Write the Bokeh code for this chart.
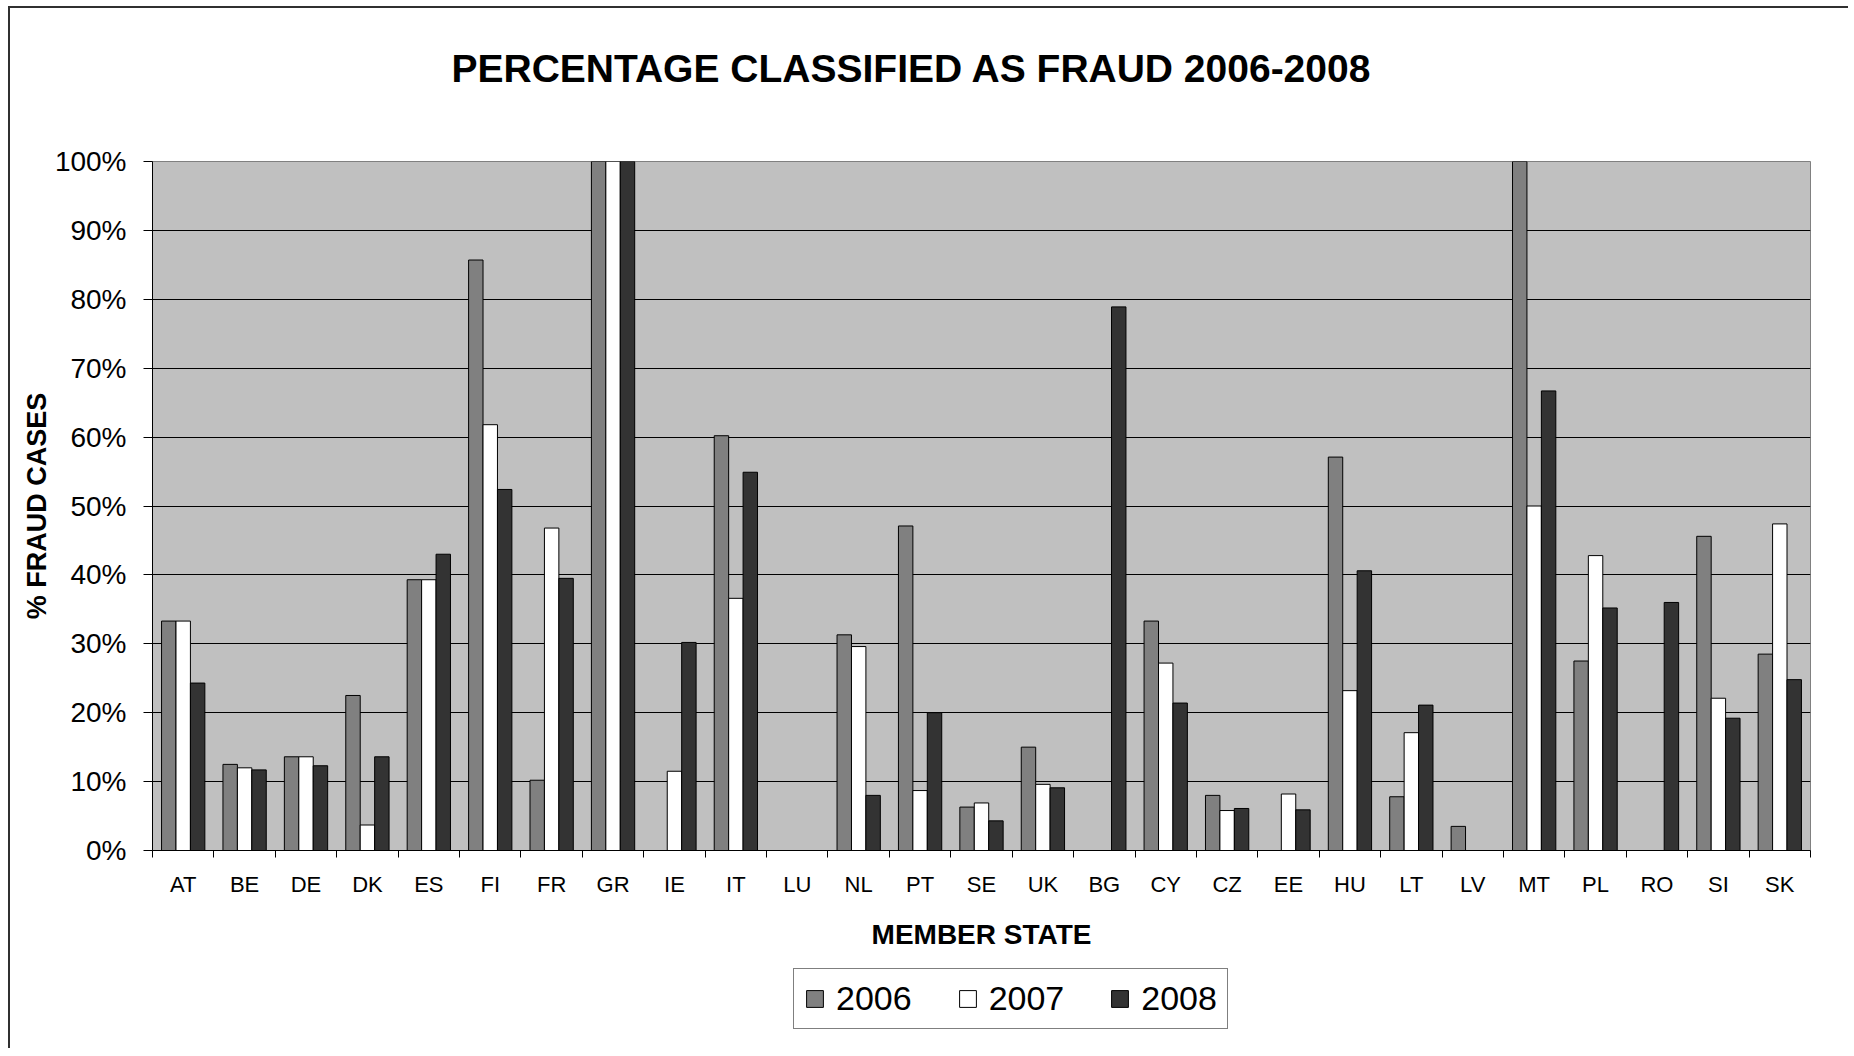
from bokeh.plotting import figure
from bokeh.layouts import column
from bokeh.models import FixedTicker, PrintfTickFormatter, Legend, LegendItem, ColumnDataSource, Range1d, Title
from bokeh.embed import file_html
from bokeh.resources import INLINE

states = ["AT", "BE", "DE", "DK", "ES", "FI", "FR", "GR", "IE", "IT", "LU", "NL", "PT", "SE",
          "UK", "BG", "CY", "CZ", "EE", "HU", "LT", "LV", "MT", "PL", "RO", "SI", "SK"]
years = ["2006", "2007", "2008"]
v2006 = [33.3, 12.5, 13.6, 22.5, 39.3, 85.7, 10.2, 100, 0, 60.2, 0, 31.3, 47.1, 6.3,
         15.0, 0, 33.3, 8.0, 0, 57.1, 7.8, 3.5, 100, 27.5, 0, 45.6, 28.5]
v2007 = [33.3, 12.0, 13.6, 3.7, 39.3, 61.8, 46.8, 100, 11.5, 36.6, 0, 29.6, 8.7, 6.9,
         9.6, 0, 27.2, 5.8, 8.2, 23.2, 17.1, 0, 50.0, 42.8, 0, 22.1, 47.4]
v2008 = [24.3, 11.7, 12.3, 13.6, 43.0, 52.4, 39.5, 100, 30.2, 54.9, 0, 8.0, 20.0, 4.3,
         9.1, 78.9, 21.4, 6.1, 5.9, 40.6, 21.1, 0, 66.7, 35.2, 36.0, 19.2, 24.8]
yticks = list(range(0, 101, 10))

colors = ["#808080", "#FFFFFF", "#333333"]
FONT = "Liberation Sans"
FRAME_LINE = "2px solid #303030"

p = figure(width=1838, height=946, output_backend="svg", toolbar_location=None,
           x_range=Range1d(0, len(states)), y_range=Range1d(0, 100),
           min_border_left=142, min_border_right=38, min_border_top=153, min_border_bottom=104)

p.background_fill_color = "#C0C0C0"
p.border_fill_color = "white"
p.outline_line_color = "#808080"
p.outline_line_width = 1

centers = [i + 0.5 for i in range(len(states))]
bw = 0.235
for k, (vals, col) in enumerate(zip([v2006, v2007, v2008], colors)):
    src = ColumnDataSource(dict(x=[c + (k - 1) * bw for c in centers], top=vals))
    p.vbar(x="x", top="top", width=bw, bottom=0, source=src,
           fill_color=col, line_color="black", line_width=1)

# grid
p.xgrid.visible = False
p.ygrid.ticker = FixedTicker(ticks=yticks)
p.ygrid.grid_line_color = "black"
p.ygrid.grid_line_width = 1

# x axis
xa = p.xaxis[0]
xa.ticker = FixedTicker(ticks=centers, minor_ticks=list(range(len(states) + 1)))
xa.major_label_overrides = {c: s for c, s in zip(centers, states)}
xa.major_tick_out = 0
xa.major_tick_in = 0
xa.minor_tick_out = 7
xa.minor_tick_in = 0
xa.minor_tick_line_color = "black"
xa.axis_line_color = "black"
xa.major_label_text_font = FONT
xa.major_label_text_font_size = "22px"
xa.major_label_text_color = "black"
xa.major_label_standoff = 14
xa.axis_label = "MEMBER STATE"
xa.axis_label_text_font = FONT
xa.axis_label_text_font_style = "bold"
xa.axis_label_text_font_size = "28px"
xa.axis_label_text_color = "black"
xa.axis_label_standoff = 19

# y axis
ya = p.yaxis[0]
ya.ticker = FixedTicker(ticks=yticks)
ya.formatter = PrintfTickFormatter(format="%d%%")
ya.major_tick_out = 9
ya.major_tick_in = 0
ya.minor_tick_out = 0
ya.minor_tick_in = 0
ya.major_tick_line_color = "black"
ya.axis_line_color = "black"
ya.major_label_text_font = FONT
ya.major_label_text_font_size = "28px"
ya.major_label_text_color = "black"
ya.major_label_standoff = 17
ya.axis_label = "% FRAUD CASES"
ya.axis_label_text_font = FONT
ya.axis_label_text_font_style = "bold"
ya.axis_label_text_font_size = "27px"
ya.axis_label_text_color = "black"
ya.axis_label_standoff = 0

# title (trailing empty line lifts the text above the frame)
t = Title(text="PERCENTAGE CLASSIFIED AS FRAUD 2006-2008\n ", align="left", offset=299,
          text_font=FONT, text_font_size="39px", text_font_style="bold",
          text_color="black", standoff=58)
p.add_layout(t, "above")

# legend strip below the chart (its frame aligns with the chart frame)
pl = figure(width=1838, height=94, output_backend="svg", toolbar_location=None,
            x_range=Range1d(0, 1), y_range=Range1d(0, 1),
            x_axis_type=None, y_axis_type=None,
            min_border_left=0, min_border_right=0, min_border_top=0, min_border_bottom=0)
pl.outline_line_color = None
pl.grid.visible = False
dummies = []
for col in colors:
    # tiny proxy bars hidden under the opaque legend box; only used for legend swatches
    dummies.append(pl.vbar(x=[0.52], bottom=[0.46], top=[0.54], width=0.004, fill_color=col,
                           line_color="black", line_width=1))

legend = Legend(items=[LegendItem(label=y, renderers=[r]) for y, r in zip(years, dummies)],
                orientation="horizontal", location=(641, 19),
                label_text_font=FONT, label_text_font_size="34px", label_text_color="black",
                glyph_width=21, glyph_height=21, label_standoff=11, spacing=45,
                padding=10, margin=0,
                border_line_color="black", border_line_width=1,
                background_fill_color="white", background_fill_alpha=1.0)
pl.add_layout(legend, "center")

layout = column(p, pl, spacing=0)
layout.margin = (6, 0, 0, 8)
layout.styles = {"border-left": FRAME_LINE, "border-top": FRAME_LINE}
open("out.html", "w").write(file_html(layout, INLINE))
